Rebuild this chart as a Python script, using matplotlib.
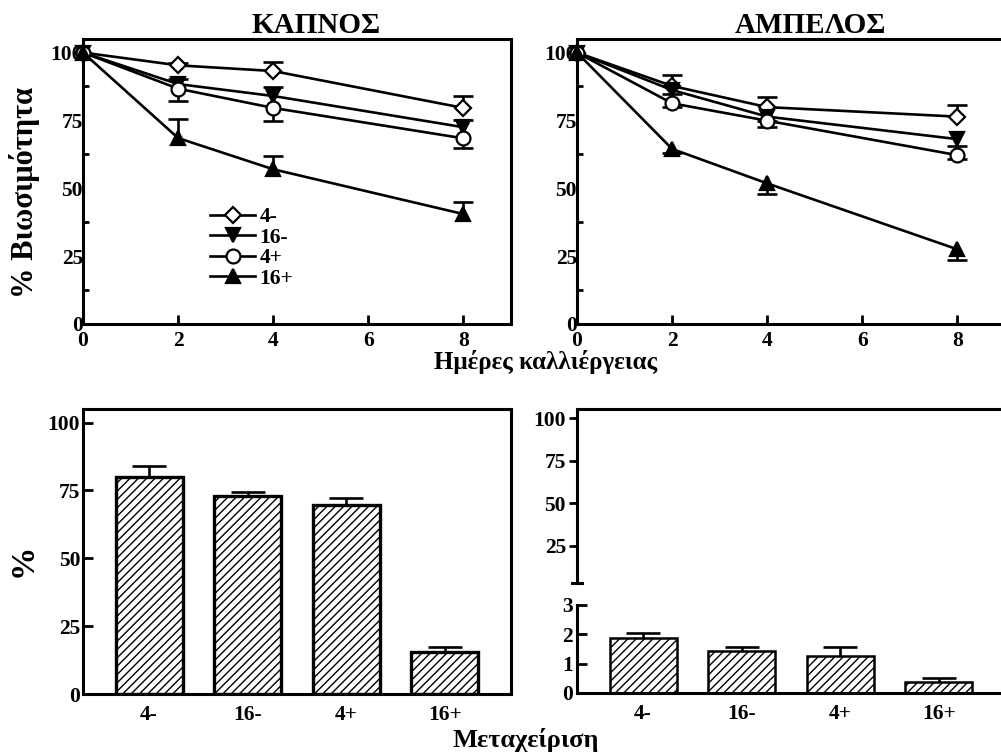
import matplotlib
matplotlib.use("Agg")
import matplotlib.pyplot as plt
from matplotlib.ticker import FixedLocator

plt.rcParams["font.family"] = ["Liberation Serif", "DejaVu Serif"]
plt.rcParams["font.weight"] = "bold"
plt.rcParams["axes.titleweight"] = "bold"
plt.rcParams["hatch.linewidth"] = 1.0

# data
days = [0, 2, 4, 8]
series = ["4-", "16-", "4+", "16+"]

kapnos = {
    "4-": [100, 95.3, 93.2, 79.6],
    "16-": [100, 88.4, 84.0, 72.5],
    "4+": [100, 86.7, 79.6, 68.4],
    "16+": [100, 68.5, 57.0, 40.5],
}
kapnos_err = {
    "4-": [0, 1.0, 3.2, 4.3],
    "16-": [0, 2.0, 3.3, 2.5],
    "4+": [0, 4.7, 4.9, 3.6],
    "16+": [0, 7.0, 5.0, 4.5],
}
kapnos_dir = {"4-": "up", "16-": "up", "4+": "down", "16+": "up"}

ampelos = {
    "4-": [100, 87.7, 79.9, 76.4],
    "16-": [100, 86.2, 76.4, 68.1],
    "4+": [100, 81.3, 74.9, 62.2],
    "16+": [100, 64.5, 51.8, 27.5],
}
ampelos_err = {
    "4-": [0, 4.1, 3.9, 4.3],
    "16-": [0, 1.5, 1.5, 2.5],
    "4+": [0, 1.5, 2.5, 1.5],
    "16+": [0, 1.5, 4.0, 3.9],
}
ampelos_dir = {"4-": "up", "16-": "down", "4+": "down", "16+": "down"}

treatments = ["4-", "16-", "4+", "16+"]
kapnos_bars = [80.0, 73.0, 69.7, 15.5]
kapnos_bars_err = [4.0, 1.5, 2.6, 1.8]
ampelos_bars = [1.89, 1.43, 1.27, 0.36]
ampelos_bars_err = [0.15, 0.15, 0.30, 0.15]

# marker styles
styles = {
    "4-": dict(marker="D", ms=8.5, mfc="white"),
    "16-": dict(marker="v", ms=10.5, mfc="black"),
    "4+": dict(marker="o", ms=10, mfc="white"),
    "16+": dict(marker="^", ms=10.5, mfc="black"),
}

W, H = 1001, 755
fig = plt.figure(figsize=(W / 100, H / 100), dpi=100)


def box(left, top, right, bottom):
    return [left / W, 1 - bottom / H, (right - left) / W, (bottom - top) / H]


def one_sided(ax, x, y, err, direction, capsize):
    lo = [e if direction == "down" else 0 for e in err]
    hi = [e if direction == "up" else 0 for e in err]
    eb = ax.errorbar(x, y, yerr=[lo, hi], fmt="none", ecolor="black",
                     elinewidth=1.9, capsize=capsize, capthick=1.9, zorder=2)
    caps = eb.lines[1]
    if len(caps) == 2:
        caps[0 if direction == "up" else 1].set_visible(False)


def line_panel(ax, data, errs, dirs, title):
    for name in series:
        st = styles[name]
        ax.plot(days, data[name], color="black", lw=1.9, marker=st["marker"],
                ms=st["ms"], mfc=st["mfc"], mec="black", mew=1.6, label=name,
                zorder=3, clip_on=False)
        one_sided(ax, days[1:], data[name][1:], errs[name][1:], dirs[name], 7)
    ax.set_xlim(0, 9)
    ax.set_ylim(0, 105)
    ax.set_xticks([0, 2, 4, 6, 8])
    ax.set_yticks([0, 25, 50, 75, 100])
    ax.yaxis.set_minor_locator(FixedLocator([12.5, 37.5, 62.5, 87.5]))
    ax.tick_params(axis="x", direction="in", length=6.5, width=2, pad=5,
                   labelsize=15.5)
    ax.tick_params(axis="y", which="major", length=0, pad=0, labelsize=15.5)
    ax.tick_params(axis="y", which="minor", direction="in", length=4, width=2)
    for s in ax.spines.values():
        s.set_linewidth(2.2)
    ax.set_title(title, x=0.545, pad=4, fontsize=21)


ax1 = fig.add_axes(box(83, 39, 511, 324))
line_panel(ax1, kapnos, kapnos_err, kapnos_dir, "ΚΑΠΝΟΣ")
ax1.legend(loc="upper left", bbox_to_anchor=(0.297, 0.41), frameon=False,
           borderpad=0, borderaxespad=0, handlelength=2.1, handletextpad=0.2,
           labelspacing=0.02, fontsize=15.5, numpoints=1)

ax2 = fig.add_axes(box(577, 39, 1005, 324))
line_panel(ax2, ampelos, ampelos_err, ampelos_dir, "ΑΜΠΕΛΟΣ")

xpos = list(range(len(treatments)))

# bottom left bars
ax3 = fig.add_axes(box(83, 409, 511, 694))
ax3.bar(xpos, kapnos_bars, width=0.68, color="white", edgecolor="black",
        lw=2.4, hatch="////", zorder=2)
for i in xpos:
    one_sided(ax3, [i], [kapnos_bars[i]], [kapnos_bars_err[i]], "up", 12)
ax3.set_xlim(-0.67, 3.67)
ax3.set_ylim(0, 105)
ax3.set_xticks(xpos)
ax3.set_xticklabels(treatments)
ax3.set_yticks([0, 25, 50, 75, 100])
ax3.tick_params(axis="x", length=0, pad=8, labelsize=15.5)
ax3.tick_params(axis="y", direction="in", length=7, width=2, pad=2,
                labelsize=15.5)
for s in ax3.spines.values():
    s.set_linewidth(2.2)

# bottom right: broken axis
ax4 = fig.add_axes(box(577, 605, 1005, 693))
ax4.bar(xpos, ampelos_bars, width=0.68, color="white", edgecolor="black",
        lw=1.8, hatch="////", zorder=2)
for i in xpos:
    one_sided(ax4, [i], [ampelos_bars[i]], [ampelos_bars_err[i]], "up", 12)
ax4.set_xlim(-0.67, 3.67)
ax4.set_ylim(0, 3)
ax4.set_xticks(xpos)
ax4.set_xticklabels(treatments)
ax4.set_yticks([0, 1, 2, 3])
ax4.tick_params(axis="x", length=0, pad=8, labelsize=15.5)
ax4.tick_params(axis="y", direction="in", length=7, width=2, pad=3,
                labelsize=15.5)
ax4.spines["top"].set_visible(False)
for s in ax4.spines.values():
    s.set_linewidth(2.2)

ax5 = fig.add_axes(box(577, 409, 1005, 583))
ax5.set_xlim(-0.67, 3.67)
ax5.set_ylim(3.3, 105.3)
ax5.set_xticks([])
ax5.set_yticks([25, 50, 75, 100])
ax5.tick_params(axis="y", direction="out", length=6, width=2, pad=2,
                labelsize=15.5)
ax5.spines["bottom"].set_visible(False)
for s in ax5.spines.values():
    s.set_linewidth(2.2)
ax5.plot([-0.012, 0.012], [0, 0], transform=ax5.transAxes, color="black",
         lw=2.2, clip_on=False)

fig.text(25 / W, 1 - 193 / H, "% Βιωσιμότητα", rotation=90, ha="center",
         va="center", fontsize=22)
fig.text(546 / W, 1 - 362 / H, "Ημέρες καλλιέργειας", ha="center",
         va="center", fontsize=18)
fig.text(23 / W, 1 - 560 / H, "%", rotation=90, ha="center", va="center",
         fontsize=24)
fig.text(526 / W, 1 - 740 / H, "Μεταχείριση", ha="center", va="center",
         fontsize=19)

fig.savefig("out.png", dpi=100)
